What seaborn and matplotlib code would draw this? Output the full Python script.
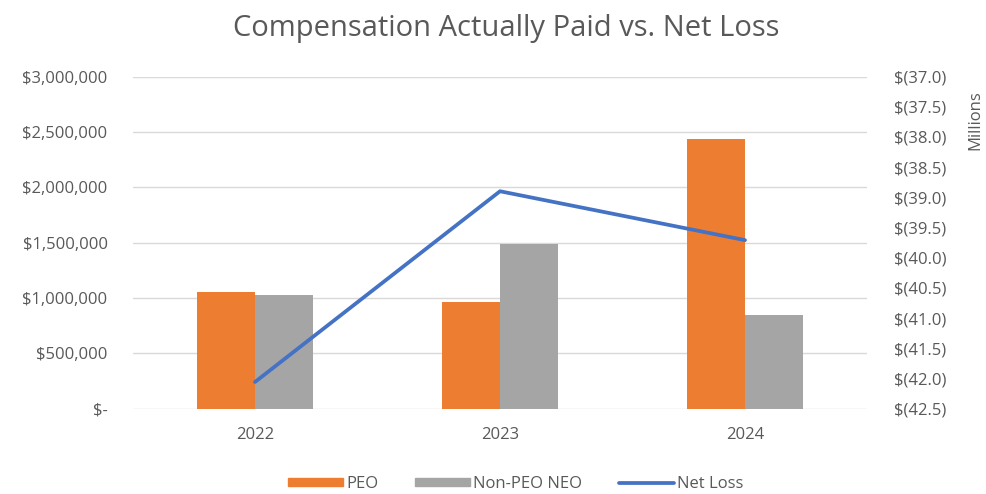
import numpy as np
import pandas as pd
import matplotlib
matplotlib.use("Agg")
import matplotlib.pyplot as plt
import seaborn as sns
from matplotlib.ticker import FuncFormatter, MultipleLocator
from matplotlib.patches import Patch
from matplotlib.lines import Line2D

years = ["2022", "2023", "2024"]
peo_cap = [1055000, 960000, 2440000]
non_peo_cap = [1024000, 1488000, 847000]
net_loss_m = [-42.06, -38.90, -39.71]  # millions

series = ["PEO", "Non-PEO NEO"]
colors = {"PEO": "#ED7D31", "Non-PEO NEO": "#A5A5A5"}
line_color = "#4472C4"
text_color = "#595959"
grid_color = "#D9D9D9"

df = pd.DataFrame({
    "Year": years * 2,
    "Series": ["PEO"] * len(years) + ["Non-PEO NEO"] * len(years),
    "CAP": peo_cap + non_peo_cap,
})

sns.set_style("white")
plt.rcParams["font.family"] = ["Open Sans", "DejaVu Sans"]
tick_fs = 12

fig = plt.figure(figsize=(9.86, 4.94), dpi=100)
ax = fig.add_axes([0.1344, 0.173, 0.7454, 0.672])

sns.barplot(data=df, x="Year", y="CAP", hue="Series", hue_order=series,
            order=years, palette=colors, width=0.475, saturation=1,
            linewidth=0, ax=ax, legend=False)

ax.set_ylim(0, 3000000)
ax.yaxis.set_major_locator(MultipleLocator(500000))
ax.yaxis.set_major_formatter(FuncFormatter(
    lambda v, p: "$-" if v == 0 else f"${v:,.0f}"))
ax.set_axisbelow(True)
ax.grid(axis="y", color=grid_color, linewidth=1)
ax.set_xlabel("")
ax.set_ylabel("")
for s in ax.spines.values():
    s.set_visible(False)
ax.tick_params(axis="y", length=0, pad=18, labelsize=tick_fs, labelcolor=text_color)
ax.tick_params(axis="x", length=0, pad=13, labelsize=tick_fs, labelcolor=text_color)

ax2 = ax.twinx()
sns.pointplot(x=years, y=net_loss_m, order=years, color=line_color,
              marker="", linestyle="-", linewidth=2.7, ax=ax2)
ax2.set_ylim(-42.5, -37.0)
ax2.yaxis.set_major_locator(MultipleLocator(0.5))
ax2.yaxis.set_major_formatter(FuncFormatter(lambda v, p: f"$({abs(v):.1f})"))
for s in ax2.spines.values():
    s.set_visible(False)
ax2.tick_params(axis="y", length=0, pad=19, labelsize=tick_fs, labelcolor=text_color)
ax2.set_ylabel("")
ax2.set_xlim(-0.5, len(years) - 0.5)
ax.set_xlim(-0.5, len(years) - 0.5)

fig.text(0.997, 0.757, "Millions", rotation=90, ha="right", va="center",
         fontsize=tick_fs, color=text_color)

fig.suptitle("Compensation Actually Paid vs. Net Loss", x=0.513, y=0.943,
             va="center", fontsize=21, color=text_color)

handles = [Patch(color=colors[s], label=s) for s in series]
handles.append(Line2D([], [], color=line_color, linewidth=2.7, label="Net Loss"))
fig.legend(handles=handles, loc="center", ncol=3, frameon=False,
           bbox_to_anchor=(0.523, 0.02), fontsize=tick_fs, labelcolor=text_color,
           handlelength=3.3, handleheight=0.4, columnspacing=2.2,
           handletextpad=0.2)

fig.savefig("out.png", dpi=100)
